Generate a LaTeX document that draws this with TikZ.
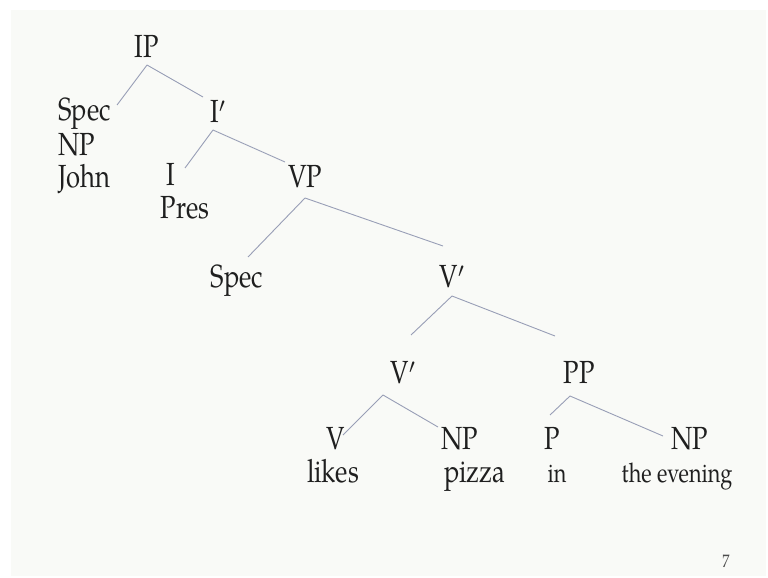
\documentclass[tikz,border=0pt]{standalone}
\usepackage{fontspec}
\setmainfont{texgyrepagella-regular.otf}[FakeStretch=0.8]
\usetikzlibrary{calc}
\definecolor{lineblue}{RGB}{152,158,182}
\definecolor{slide}{RGB}{249,250,247}

\begin{document}
\begin{tikzpicture}
	[	x=1pt, y=-1pt,
		word/.style={inner sep=1pt,anchor=base,text=black!88,font=\fontsize{32}{36}\selectfont},
		small/.style={word,font=\fontsize{27}{30}\selectfont},
		branch/.style={draw=lineblue,line width=0.9pt}	]
	\fill[white] (0,0) rectangle (768,578);
	\fill[slide] (11,10) rectangle (766,576);
	\useasboundingbox (0,0) rectangle (768,578);
	% labels of the tree
	\node[word] (ip) at (147,57) {IP};
	\node[word,anchor=base west] (spec) at (57,120) {Spec};
	\node[word,anchor=base west] (npa) at (57,155) {NP};
	\node[word,anchor=base west] (john) at (57,187) {John};
	\node[word] (ibar) at (218,122) {I$'$};
	\node[word] (infl) at (171,185) {I};
	\node[word] (pres) at (185,218) {Pres};
	\node[word] (vp) at (305,187) {VP};
	\node[word] (specb) at (237,287) {Spec};
	\node[word] (vbara) at (452,287) {V$'$};
	\node[word] (vbarb) at (403,383) {V$'$};
	\node[word] (pp) at (579,383) {PP};
	\node[word] (verb) at (336,449) {V};
	\node[word] (npb) at (460,449) {NP};
	\node[word] (prep) at (552,449) {P};
	\node[word] (npc) at (690,449) {NP};
	\node[word] (likes) at (333,482) {likes};
	\node[word,anchor=base west] (pizza) at (443,482) {pizza};
	\node[small] (in) at (557,482) {in};
	\node[small] (evening) at (677,482) {the evening};
	\node[word,font=\fontsize{18}{20}\selectfont,text=black!70] (page) at (726,567) {7};
	% branches
	\draw[branch] ($(ip.base)+(0,8)$) -- ($(spec.base west)+(60,-15)$);
	\draw[branch] ($(ip.base)+(0,8)$) -- ($(ibar.base)+(-15,-25)$);
	\draw[branch] ($(ibar.base)+(-5,8)$) -- ($(infl.base)+(14,-17)$);
	\draw[branch] ($(ibar.base)+(-5,8)$) -- ($(vp.base)+(-20,-25)$);
	\draw[branch] ($(vp.base)+(0,11)$) -- ($(specb.base)+(11,-30)$);
	\draw[branch] ($(vp.base)+(0,11)$) -- ($(vbara.base)+(-9,-41)$);
	\draw[branch] ($(vbara.base)+(0,9)$) -- ($(vbarb.base)+(8,-48)$);
	\draw[branch] ($(vbara.base)+(0,9)$) -- ($(pp.base)+(-24,-47)$);
	\draw[branch] ($(vbarb.base)+(-20,12)$) -- ($(verb.base)+(7,-14)$);
	\draw[branch] ($(vbarb.base)+(-20,12)$) -- ($(npb.base)+(-22,-22)$);
	\draw[branch] ($(pp.base)+(-9,13)$) -- ($(prep.base)+(-2,-34)$);
	\draw[branch] ($(pp.base)+(-9,13)$) -- ($(npc.base)+(-27,-13)$);
\end{tikzpicture}
\end{document}
